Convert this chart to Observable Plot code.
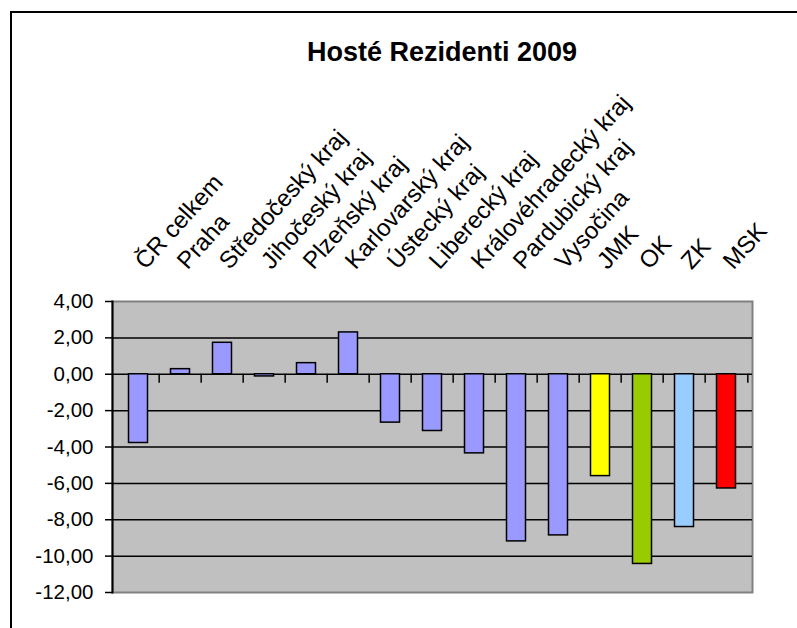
<!DOCTYPE html>
<html><head><meta charset="utf-8">
<script src="https://cdn.jsdelivr.net/npm/d3@7"></script>
<script src="https://cdn.jsdelivr.net/npm/@observablehq/plot@0.6"></script>
<style>
body{margin:0;background:#fff;overflow:hidden;font-family:"Liberation Sans",Arial,sans-serif;}
#wrap{position:relative;width:797px;height:628px;overflow:hidden;}
#frame{position:absolute;left:10px;top:11px;width:900px;height:900px;border-top:2px solid #000;border-left:2px solid #000;}
#title{position:absolute;left:0;width:884px;top:37px;text-align:center;font-weight:bold;font-size:27px;color:#000;}
#chart{position:absolute;left:0;top:0;}
</style></head>
<body>
<div id="wrap">
  <div id="frame"></div>
  <div id="title">Hosté Rezidenti 2009</div>
  <div id="chart"></div>
</div>
<script>
const categories = ["ČR celkem","Praha","Středočeský kraj","Jihočeský kraj","Plzeňský kraj","Karlovarský kraj","Ústecký kraj","Liberecký kraj","Královéhradecký kraj","Pardubický kraj","Vysočina","JMK","OK","ZK","MSK"];
const values = [-3.78, 0.28, 1.73, -0.12, 0.61, 2.30, -2.66, -3.12, -4.35, -9.19, -8.86, -5.60, -10.43, -8.40, -6.28];
const barColors = ["#9999FF","#9999FF","#9999FF","#9999FF","#9999FF","#9999FF","#9999FF","#9999FF","#9999FF","#9999FF","#9999FF","#FFFF00","#99CC00","#99CCFF","#FF0000"];
const yTicks = [4, 2, 0, -2, -4, -6, -8, -10, -12];

const data = categories.map((c, i) => ({cat: c, value: values[i], color: barColors[i]}));

const W = 797, H = 628, mL = 112, mR = 45, mT = 301, mB = 36;
const bw = (W - mL - mR) / categories.length;
const fmt = d => d.toFixed(2).replace(".", ",");

const chart = Plot.plot({
  width: W, height: H,
  marginLeft: mL, marginRight: mR, marginTop: mT, marginBottom: mB,
  style: {fontFamily: "'Liberation Sans', Arial, sans-serif", color: "#000", background: "transparent"},
  x: {type: "band", domain: categories, padding: 0, axis: null},
  y: {domain: [-12, 4], axis: null},
  marks: [
    Plot.frame({fill: "#C0C0C0", stroke: "#808080", strokeWidth: 2}),
    Plot.ruleY(yTicks.filter(d => d < 4 && d > -12), {stroke: "#000", strokeWidth: 1.5}),
    Plot.frame({anchor: "left", stroke: "#000", strokeWidth: 2}),
    Plot.ruleX(categories.slice(1), {x: d => d, y1: 0, y2: -0.5, dx: -bw / 2, stroke: "#000", strokeWidth: 1.5}),
    Plot.ruleX(categories.slice(-1), {x: d => d, y1: 0, y2: -0.5, dx: bw / 2, stroke: "#000", strokeWidth: 1.5}),
    Plot.barY(data, {x: "cat", y: "value", fill: "color", stroke: "#000", strokeWidth: 1.5, insetLeft: 11.5, insetRight: 11.5}),
    Plot.axisY({ticks: yTicks, tickFormat: fmt, tickSize: 7, tickPadding: 12, fontSize: 20.5, stroke: "#000", strokeWidth: 1.5, strokeOpacity: 1, fill: "#000", label: null}),
    Plot.text(categories, {x: d => d, frameAnchor: "top", rotate: -48, textAnchor: "start", lineAnchor: "bottom", dx: 7, dy: -31, fontSize: 24, fill: "#000"})
  ]
});
document.getElementById("chart").appendChild(chart);
</script>
</body></html>
